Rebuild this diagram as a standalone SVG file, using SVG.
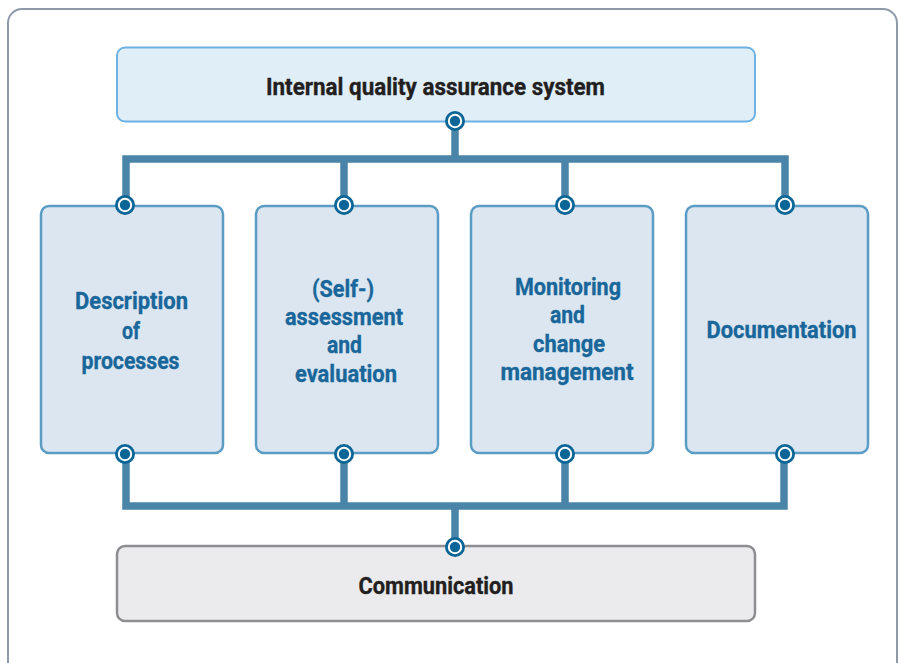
<svg xmlns="http://www.w3.org/2000/svg" xmlns:xlink="http://www.w3.org/1999/xlink" width="899" height="663" viewBox="0 0 899 663">
<style>
.t{font-family:Roboto,"Liberation Sans",Arial,sans-serif;font-weight:bold;font-size:24px;text-anchor:middle;stroke-width:0.35}
.dark{fill:#231f20;stroke:#231f20}
.blue{fill:#19679a;stroke:#19679a}
.mid{fill:#dbe6f0;stroke:#5b9cc5;stroke-width:2.5}
.conn{fill:none;stroke:#4a85a9;stroke-width:7.5;stroke-linejoin:miter;stroke-linecap:butt}
</style>
<defs>
<g id="dot">
<circle r="10" fill="#0b6597"/>
<circle r="7.2" fill="#ffffff"/>
<circle r="5.2" fill="#0b6597"/>
</g>
</defs>
<rect x="0" y="0" width="899" height="663" fill="#ffffff"/>
<rect id="frame" x="8" y="9" width="889" height="690" rx="14" fill="#ffffff" stroke="#8e9aaa" stroke-width="2"/>

<g id="connectors">
<path class="conn" d="M126,205 V159 H785 V205 M344,159 V205 M565,159 V205 M455,121 V159"/>
<path class="conn" d="M126,453 V506 H784 V453 M344,453 V506 M565,453 V506 M455,506 V547"/>
</g>

<g id="node-top">
<rect x="117" y="47.5" width="638" height="74" rx="8" fill="#e0eef8" stroke="#6cb2e2" stroke-width="2"/>
<text class="t dark" x="435.5" y="94.5" textLength="339" lengthAdjust="spacingAndGlyphs">Internal quality assurance system</text>
</g>

<g id="node-description">
<rect class="mid" x="41" y="206" width="182" height="247" rx="8"/>
<text class="t blue" x="131.5" y="308.5" textLength="113" lengthAdjust="spacingAndGlyphs">Description</text>
<text class="t blue" x="131" y="338.5" textLength="18" lengthAdjust="spacingAndGlyphs">of</text>
<text class="t blue" x="130.5" y="368.5" textLength="98" lengthAdjust="spacingAndGlyphs">processes</text>
</g>

<g id="node-assessment">
<rect class="mid" x="256" y="206" width="182" height="247" rx="8"/>
<text class="t blue" x="343" y="296.5" textLength="62" lengthAdjust="spacingAndGlyphs">(Self-)</text>
<text class="t blue" x="344" y="324.5" textLength="118" lengthAdjust="spacingAndGlyphs">assessment</text>
<text class="t blue" x="344.5" y="353" textLength="35" lengthAdjust="spacingAndGlyphs">and</text>
<text class="t blue" x="346" y="381.5" textLength="102" lengthAdjust="spacingAndGlyphs">evaluation</text>
</g>

<g id="node-monitoring">
<rect class="mid" x="471" y="206" width="182" height="247" rx="8"/>
<text class="t blue" x="568" y="294.5" textLength="106" lengthAdjust="spacingAndGlyphs">Monitoring</text>
<text class="t blue" x="567.5" y="323" textLength="35" lengthAdjust="spacingAndGlyphs">and</text>
<text class="t blue" x="569" y="351.5" textLength="72" lengthAdjust="spacingAndGlyphs">change</text>
<text class="t blue" x="567" y="379.5" textLength="133" lengthAdjust="spacingAndGlyphs">management</text>
</g>

<g id="node-documentation">
<rect class="mid" x="686" y="206" width="182" height="247" rx="8"/>
<text class="t blue" x="781.5" y="338" textLength="150" lengthAdjust="spacingAndGlyphs">Documentation</text>
</g>

<g id="node-communication">
<rect x="117" y="546" width="638" height="75" rx="8" fill="#ebebee" stroke="#8e8e92" stroke-width="2.5"/>
<text class="t dark" x="436" y="594" textLength="155" lengthAdjust="spacingAndGlyphs">Communication</text>
</g>

<g id="ports">
<use xlink:href="#dot" x="455" y="121"/>
<use xlink:href="#dot" x="125" y="205"/>
<use xlink:href="#dot" x="344" y="205"/>
<use xlink:href="#dot" x="565" y="205"/>
<use xlink:href="#dot" x="785" y="205"/>
<use xlink:href="#dot" x="125" y="454"/>
<use xlink:href="#dot" x="344" y="454"/>
<use xlink:href="#dot" x="565" y="454"/>
<use xlink:href="#dot" x="785" y="454"/>
<use xlink:href="#dot" x="455" y="547"/>
</g>
</svg>
